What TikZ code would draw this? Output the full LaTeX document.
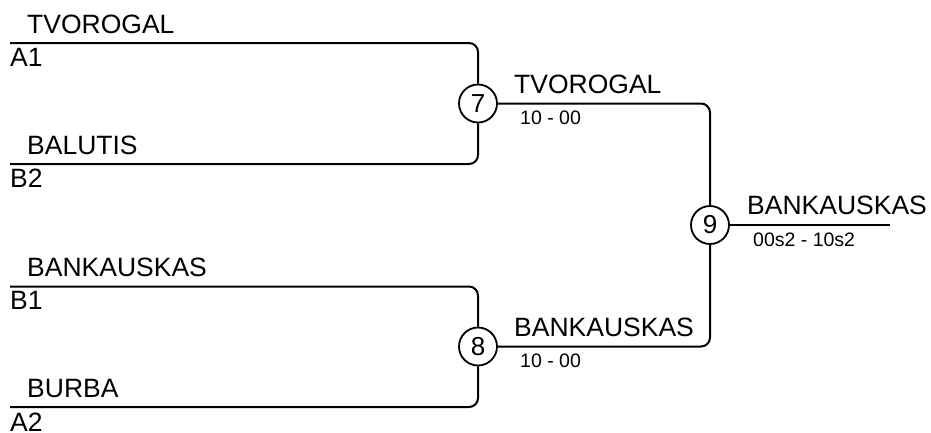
\documentclass[tikz,border=0pt]{standalone}
\usepackage{fontspec}
\setmainfont{Liberation Sans}
\begin{document}
\begin{tikzpicture}[x=1pt,y=-1pt,
  wire/.style={line width=2pt, rounded corners=9pt},
  circ/.style={circle, draw, line width=1.8pt, minimum size=38pt, inner sep=0pt, font=\fontsize{26}{28}\selectfont},
  big/.style={anchor=base west, inner sep=0pt, font=\fontsize{26.5}{28}\selectfont},
  small/.style={anchor=base west, inner sep=0pt, font=\fontsize{19.5}{22}\selectfont}]
\useasboundingbox (0,0) rectangle (931,432);
% first-round line starts
\coordinate (a1) at (10,43);
\coordinate (b2) at (10,164);
\coordinate (b1) at (10,286.5);
\coordinate (a2) at (10,407);
\coordinate (fin) at (890,225);
% match circles
\node[circ] (m7) at (478,103.5) {7};
\node[circ] (m8) at (478,346.5) {8};
\node[circ] (m9) at (710,225) {9};
% connectors
\draw[wire] (a1) -| (m7);
\draw[wire] (b2) -| (m7);
\draw[wire] (b1) -| (m8);
\draw[wire] (a2) -| (m8);
\draw[wire] (m7) -| (m9);
\draw[wire] (m8) -| (m9);
\draw[wire] (m9) -- (fin);
% labels
\node[big] (tA1) at (27,33) {TVOROGAL};
\node[big] (sA1) at (10,66) {A1};
\node[big] (tB2) at (27,154) {BALUTIS};
\node[big] (sB2) at (10,187) {B2};
\node[big] (tB1) at (27,276) {BANKAUSKAS};
\node[big] (sB1) at (10,309) {B1};
\node[big] (tA2) at (27,397) {BURBA};
\node[big] (sA2) at (10,431) {A2};
\node[big] (w7) at (514,93) {TVOROGAL};
\node[small] (r7) at (520,124) {10 - 00};
\node[big] (w8) at (514,336) {BANKAUSKAS};
\node[small] (r8) at (520,367) {10 - 00};
\node[big] (w9) at (747,214.5) {BANKAUSKAS};
\node[small] (r9) at (753,246) {00s2 - 10s2};
\end{tikzpicture}
\end{document}
